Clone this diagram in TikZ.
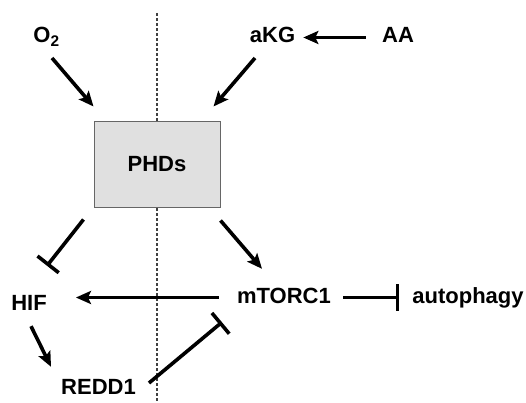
\documentclass[tikz,border=0pt]{standalone}
\usepackage{fontspec}
\setmainfont{Liberation Sans}
\usepackage{tikz}
\usetikzlibrary{arrows.meta}

\begin{document}
\begin{tikzpicture}[x=1pt,y=-1pt,
  lbl/.style={inner sep=0pt,anchor=base,text height=15pt,text depth=4pt,font=\bfseries\fontsize{22}{26}\selectfont},
  act/.style={line width=3.6pt,-{Stealth[length=15pt,width=13pt,inset=3pt]}},
  inh/.style={line width=3.6pt,-{Bar[width=27pt]}}]
\useasboundingbox (0,0) rectangle (526,403);

\coordinate (top) at (157,13);
\coordinate (bottom) at (157,403);
\draw[line width=1.2pt,dash pattern=on 3pt off 2pt,black!75] (top) -- (bottom);

\node[lbl] (1) at (46.5,43) {O\textsubscript{2}};

\node[lbl] (2) at (272.5,43) {aKG};

\node[lbl] (3) at (398,43) {AA};

\node[draw=black!60,fill=black!12,line width=1pt,minimum width=126pt,minimum height=85pt,inner sep=0pt,font=\bfseries\fontsize{22}{26}\selectfont] (4) at (157,164.5) {PHDs};

\node[lbl] (5) at (29,310) {HIF};

\node[lbl] (6) at (284,303) {mTORC1};

\node[lbl] (7) at (468,303) {autophagy};

\node[lbl] (8) at (98.5,394) {REDD1};

\draw[act] ([shift={(5.5,15)}]1.base) -- ([shift={(0,-15)}]4.north west);

\draw[act] ([shift={(-17.5,15)}]2.base) -- ([shift={(-7,-15)}]4.north east);

\draw[act,shorten <=16pt,shorten >=8pt] (3.west) -- (2.east);

\draw[inh] ([shift={(-10,12)}]4.south west) -- ([shift={(18,-29)}]5.north);

\draw[act] ([shift={(0,13)}]4.south east) -- ([shift={(-22,-19)}]6.north);

\draw[act,shorten <=18pt,shorten >=29pt] (6.west) -- (6.west -| 5.east);

\draw[inh,shorten <=12pt,shorten >=13pt] (6.east) -- (7.west);

\draw[act] ([shift={(2,12)}]5.south) -- ([shift={(-10,-12)}]8.north west);

\draw[inh] ([shift={(13,-5.5)}]8.east) -- ([shift={(-15,15)}]6.south west);
\end{tikzpicture}
\end{document}
